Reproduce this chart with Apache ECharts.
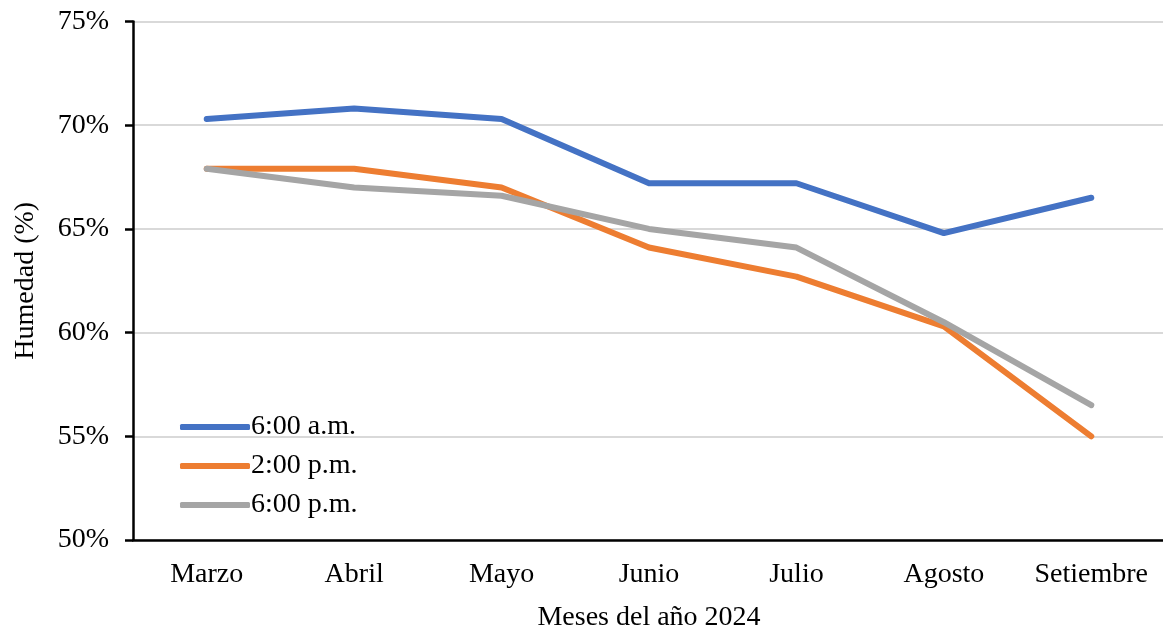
<!DOCTYPE html>
<html><head><meta charset="utf-8">
<script src="https://cdn.jsdelivr.net/npm/echarts@6/dist/echarts.min.js"></script>
<style>html,body{margin:0;padding:0;background:#fff}#c{width:1163px;height:630px}</style>
</head><body><div id="c"></div>
<script>
const categories = ['Marzo','Abril','Mayo','Junio','Julio','Agosto','Setiembre'];
const am6 = [70.3, 70.8, 70.3, 67.2, 67.2, 64.8, 66.5];
const pm2 = [67.9, 67.9, 67.0, 64.1, 62.7, 60.3, 55.0];
const pm6 = [67.9, 67.0, 66.6, 65.0, 64.1, 60.5, 56.5];
const seriesNames = ['6:00 a.m.', '2:00 p.m.', '6:00 p.m.'];
const colors = ['#4472C4', '#ED7D31', '#A5A5A5'];
const font = 'Liberation Serif';
const fs = 28;
const chart = echarts.init(document.getElementById('c'));
const mk = (name, data, color) => ({
  name, type: 'line', data, symbol: 'none', showSymbol: false,
  lineStyle: { width: 6, color, cap: 'round', join: 'round' },
  itemStyle: { color }
});
chart.setOption({
  animation: false,
  textStyle: { fontFamily: font, color: '#000' },
  grid: { left: 133, right: -2, top: 21.5, bottom: 90, containLabel: false, outerBoundsMode: 'none' },
  legend: {
    orient: 'vertical', left: 175, top: 408,
    icon: 'roundRect', itemWidth: 70, itemHeight: 6, itemGap: 11,
    textStyle: { fontFamily: font, fontSize: fs, color: '#000', padding: [0,0,0,-4] },
    data: seriesNames
  },
  xAxis: {
    type: 'category', data: categories, boundaryGap: true,
    name: 'Meses del año 2024', nameLocation: 'middle', nameGap: 64,
    nameTextStyle: { fontFamily: font, fontSize: fs, color: '#000' },
    axisLine: { lineStyle: { color: '#000', width: 2.5 } },
    axisTick: { show: false },
    axisLabel: { fontFamily: font, fontSize: fs, color: '#000', margin: 21, interval: 0, hideOverlap: false }
  },
  yAxis: {
    type: 'value', min: 50, max: 75, interval: 5,
    name: 'Humedad (%)', nameLocation: 'middle', nameGap: 93, nameRotate: 90,
    nameTextStyle: { fontFamily: font, fontSize: fs, color: '#000' },
    axisLine: { show: true, lineStyle: { color: '#000', width: 2.5 } },
    axisTick: { show: true, length: 8, lineStyle: { color: '#000', width: 2.5 } },
    axisLabel: { fontFamily: font, fontSize: fs, color: '#000', margin: 24, formatter: v => v + '%' },
    splitLine: { lineStyle: { color: '#d9d9d9', width: 2 } }
  },
  series: [mk(seriesNames[0], am6, colors[0]), mk(seriesNames[1], pm2, colors[1]), mk(seriesNames[2], pm6, colors[2])]
});
</script></body></html>
